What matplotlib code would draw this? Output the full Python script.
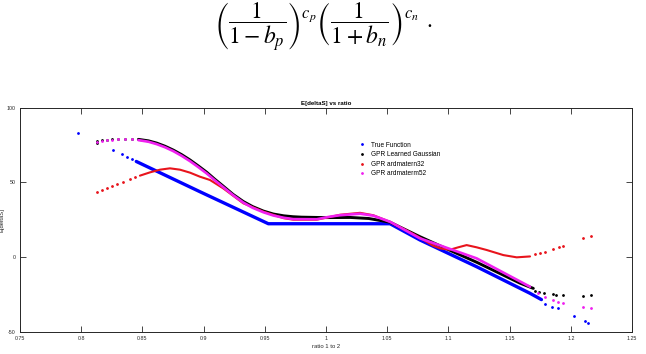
import matplotlib
matplotlib.use("Agg")
import matplotlib.pyplot as plt
from matplotlib.lines import Line2D

# ---- data ----
# True Function (blue)
true_dots_x = [0.797, 0.8263, 0.8331, 0.8372, 0.8415, 1.1789, 1.1844, 1.1893, 1.2026, 1.2116, 1.2143]
true_dots_y = [83.3, 71.7, 68.8, 67.2, 65.4, -31.2, -33.3, -34.4, -39.5, -42.7, -44.0]
true_line_x = [0.845, 0.8971, 0.9529, 1.0523, 1.0768, 1.1231, 1.1667, 1.176]
true_line_y = [64.0, 43.7, 22.3, 22.3, 11.4, -6.5, -24.3, -28.5]

# GPR Learned Gaussian (black)
gauss_dots_x = [0.8126, 0.8126, 0.8167, 0.8208, 0.8249, 0.8303, 0.8358, 0.8412,
                1.1707, 1.1743, 1.1781, 1.1857, 1.1879, 1.1934, 1.2098, 1.2163]
gauss_dots_y = [76.1, 77.7, 78.2, 78.4, 78.8, 79.0, 79.0, 79.0,
                -22.6, -23.2, -23.9, -25.0, -25.5, -25.7, -25.9, -25.5]
gauss_line_x = [0.8467, 0.855, 0.8617, 0.8685, 0.8753, 0.882, 0.8889, 0.8957, 0.9025, 0.909,
                0.916, 0.924, 0.9324, 0.940, 0.9488, 0.957, 0.9655, 0.973, 0.98,
                1.0, 1.02, 1.035, 1.0523, 1.0768, 1.104, 1.1231, 1.1585, 1.1694]
gauss_line_y = [78.8, 77.8, 76.3, 74.2, 71.6, 68.6, 65.0, 61.0, 56.8, 52.2,
                47.5, 42.0, 37.2, 33.8, 30.8, 28.8, 27.6, 27.0, 26.7,
                26.4, 26.5, 25.8, 23.3, 13.6, 3.5, -3.5, -17.5, -21.0]

# GPR ardmatern32 (red)
m32_dots_x = [0.8126, 0.8167, 0.8208, 0.8249, 0.829, 0.8344, 0.8399, 0.844,
              1.1707, 1.1748, 1.1789, 1.1857, 1.1906, 1.1934, 1.2098, 1.2163]
m32_dots_y = [43.7, 44.9, 46.4, 47.6, 48.7, 50.0, 52.0, 53.4,
              1.8, 2.5, 3.6, 5.2, 6.5, 7.4, 12.5, 14.3]
m32_line_x = [0.848, 0.8562, 0.8644, 0.8725, 0.8807, 0.8889, 0.897, 0.9052, 0.916, 0.9324,
              0.9488, 0.9655, 0.9733, 0.9924, 1.003, 1.0114, 1.0278, 1.0386, 1.0523, 1.0713,
              1.0768, 1.0877, 1.0931, 1.1013, 1.108, 1.1149, 1.1231, 1.1313, 1.1449, 1.1558, 1.1667]
m32_line_y = [54.5, 56.7, 58.5, 59.4, 58.5, 56.5, 53.8, 51.6, 46.0, 36.0,
              30.4, 26.0, 25.0, 25.0, 26.8, 28.3, 29.6, 28.0, 23.6, 15.5,
              12.9, 7.5, 5.8, 4.9, 6.5, 8.0, 6.5, 4.7, 1.3, -0.2, 0.4]

# GPR ardmaterm52 (magenta)
m52_dots_x = [0.8126, 0.8167, 0.8208, 0.8249, 0.8303, 0.8358, 0.8412,
              1.1734, 1.1789, 1.1857, 1.1893, 1.1934, 1.2098, 1.2163]
m52_dots_y = [77.3, 77.9, 78.4, 78.7, 78.9, 79.0, 79.0,
              -24.3, -26.6, -29.0, -30.0, -31.0, -33.6, -34.2]
m52_line_x = [0.8467, 0.855, 0.8617, 0.8685, 0.8753, 0.882, 0.8889, 0.8957, 0.9025, 0.909,
              0.916, 0.924, 0.9324, 0.940, 0.9488, 0.957, 0.9655, 0.9733, 0.9924, 1.003,
              1.0114, 1.0278, 1.0386, 1.0523, 1.0768, 1.1231, 1.1667]
m52_line_y = [78.3, 77.2, 75.6, 73.5, 70.9, 67.8, 64.2, 60.2, 56.0, 51.5,
              46.8, 41.5, 36.5, 33.0, 30.0, 27.8, 26.3, 25.4, 25.3, 27.0,
              28.0, 29.0, 27.7, 23.6, 12.5, -0.9, -19.9]

x_ticks = [0.75, 0.8, 0.85, 0.9, 0.95, 1.0, 1.05, 1.1, 1.15, 1.2, 1.25]
x_labels = ["0.75", "0.8", "0.85", "0.9", "0.95", "1", "1.05", "1.1", "1.15", "1.2", "1.25"]
y_ticks = [-50, 0, 50, 100]
y_labels = ["-50", "0", "50", "100"]
legend_labels = ["True Function", "GPR Learned Gaussian", "GPR ardmatern32", "GPR ardmaterm52"]

plt.rcParams["font.family"] = ["Liberation Sans", "DejaVu Sans"]
plt.rcParams["mathtext.fontset"] = "stix"

W, H = 646, 354
fig = plt.figure(figsize=(W / 100, H / 100), dpi=100)
fig.patch.set_facecolor("white")

# formula above the chart
fig.text(214 / W, 1 - 27 / H,
         r"$\left(\dfrac{1}{1-b_p}\right)^{c_p}\left(\dfrac{1}{1+b_n}\right)^{c_n}\;\,.$",
         fontsize=17, ha="left", va="center")

ax = fig.add_axes([20 / W, (H - 331.7) / H, 612 / W, 224 / H])

series = [
    (true_line_x, true_line_y, true_dots_x, true_dots_y, "#0000ff", 2.4),
    (gauss_line_x, gauss_line_y, gauss_dots_x, gauss_dots_y, "#000000", 2.1),
    (m32_line_x, m32_line_y, m32_dots_x, m32_dots_y, "#e8141c", 1.5),
    (m52_line_x, m52_line_y, m52_dots_x, m52_dots_y, "#f020f0", 1.9),
]
for lx, ly, dx, dy, col, lw in series:
    ax.plot(lx, ly, color=col, lw=lw, solid_capstyle="round", solid_joinstyle="round")
    ax.plot(dx, dy, ls="none", marker=".", ms=2.0, color=col)

ax.set_xlim(0.75, 1.25)
ax.set_ylim(-50, 100)
ax.set_xticks(x_ticks)
ax.set_xticklabels(x_labels)
ax.set_yticks(y_ticks)
ax.set_yticklabels(y_labels)
ax.tick_params(direction="in", length=4, width=0.6, labelsize=3.8,
               colors="#262626", top=True, right=True, pad=3)
for sp in ax.spines.values():
    sp.set_color("#262626")
    sp.set_linewidth(0.7)

ax.set_title("E[deltaS] vs ratio", fontsize=4.4, fontweight="bold", pad=2)
ax.set_xlabel("ratio 1 to 2", fontsize=4.2, color="#262626", labelpad=2)
ax.set_ylabel("E[deltaS]", fontsize=4.2, color="#262626", labelpad=2)

handles = [Line2D([], [], ls="none", marker=".", ms=2.0, color=s[4]) for s in series]
ax.legend(handles, legend_labels, loc="upper left", bbox_to_anchor=((355 - 20) / 612, (331.7 - 137) / 224),
          frameon=False, fontsize=4.7, handlelength=0.8, handletextpad=0.9,
          labelspacing=0.4, borderpad=0.2)

fig.savefig("out.png", dpi=100, facecolor="white")
